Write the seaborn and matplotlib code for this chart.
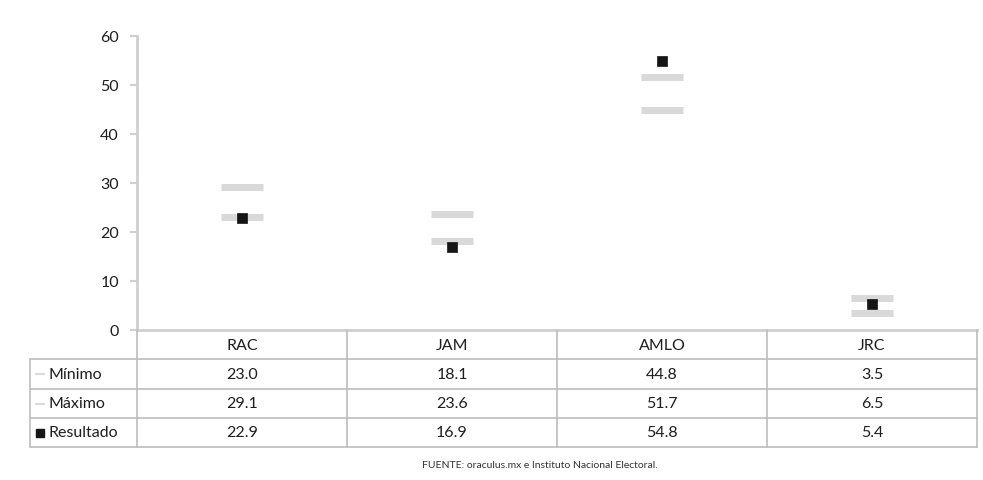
import matplotlib
matplotlib.use("Agg")
import matplotlib.pyplot as plt
import seaborn as sns
import pandas as pd

categories = ["RAC", "JAM", "AMLO", "JRC"]
minimo = [23.0, 18.1, 44.8, 3.5]
maximo = [29.1, 23.6, 51.7, 6.5]
resultado = [22.9, 16.9, 54.8, 5.4]
series_names = ["Mínimo", "Máximo", "Resultado"]
yticks = [0, 10, 20, 30, 40, 50, 60]
source_note = "FUENTE: oraculus.mx e Instituto Nacional Electoral."

sns.set_theme(style="white")
plt.rcParams["font.family"] = ["Lato", "DejaVu Sans"]

W, H = 983, 481
fig = plt.figure(figsize=(W / 100, H / 100), dpi=100)
L, R, T, B = 137, 977, 37, 331
ax = fig.add_axes([L / W, 1 - B / H, (R - L) / W, (B - T) / H])

grey = "#d9d9d9"
axis_grey = "#cfcfcf"
txt_c = "#1e1e1e"
df_min = pd.DataFrame({"cat": categories, "val": minimo})
df_max = pd.DataFrame({"cat": categories, "val": maximo})
df_res = pd.DataFrame({"cat": categories, "val": resultado})

for d in (df_min, df_max):
    sns.scatterplot(data=d, x="cat", y="val", marker="_", s=(42 * 0.72) ** 2,
                    color=grey, linewidth=7 * 0.72, ax=ax, legend=False, zorder=2)
sns.scatterplot(data=df_res, x="cat", y="val", marker="s", s=(10.5 * 0.72) ** 2,
                color="#151515", edgecolor="#151515", linewidth=0.5, ax=ax,
                legend=False, zorder=3)

ax.set_xlim(-0.5, len(categories) - 0.5)
ax.set_ylim(0, 60)
ax.set_yticks(yticks)
ax.set_yticklabels([str(v) for v in yticks], fontsize=11.5, color=txt_c)
ax.set_xticks([])
ax.set_xlabel("")
ax.set_ylabel("")
for s in ("top", "right"):
    ax.spines[s].set_visible(False)
for s in ("left", "bottom"):
    ax.spines[s].set_color(axis_grey)
    ax.spines[s].set_linewidth(2)
ax.tick_params(axis="y", left=True, length=5, width=1.5, color=axis_grey, pad=8)

# Data table below the chart (figure pixel coordinates)
tax = fig.add_axes([0, 0, 1, 1])
tax.set_xlim(0, W)
tax.set_ylim(H, 0)
tax.axis("off")
line_c = "#bdbdbd"
col_edges = [L + (R - L) * i / len(categories) for i in range(len(categories) + 1)]
row_edges = [B, 360, 390, 419, 448]
left_edge = 30
for x in col_edges:
    tax.plot([x, x], [B, row_edges[-1]], color=line_c, lw=1.2)
tax.plot([left_edge, left_edge], [row_edges[1], row_edges[-1]], color=line_c, lw=1.2)
for y in row_edges[1:]:
    tax.plot([left_edge, R], [y, y], color=line_c, lw=1.2)
for i, c in enumerate(categories):
    xc = (col_edges[i] + col_edges[i + 1]) / 2
    tax.text(xc, (row_edges[0] + row_edges[1]) / 2 + 1, c, ha="center", va="center",
             fontsize=11.5, color=txt_c)
rows = [minimo, maximo, resultado]
for r, (name, vals) in enumerate(zip(series_names, rows)):
    yc = (row_edges[r + 1] + row_edges[r + 2]) / 2
    if r < 2:
        tax.plot([36, 44], [yc, yc], color=grey, lw=1.5)
    else:
        tax.plot([40], [yc], marker="s", ms=6, color="#151515")
    tax.text(48, yc, name, ha="left", va="center", fontsize=11.5, color=txt_c)
    for i, v in enumerate(vals):
        xc = (col_edges[i] + col_edges[i + 1]) / 2
        tax.text(xc, yc, f"{v:.1f}", ha="center", va="center", fontsize=11.5,
                 color=txt_c)

tax.text(540, 466, source_note, ha="center", va="center", fontsize=7.5,
         color="#333333")

fig.savefig("out.png", dpi=100)
